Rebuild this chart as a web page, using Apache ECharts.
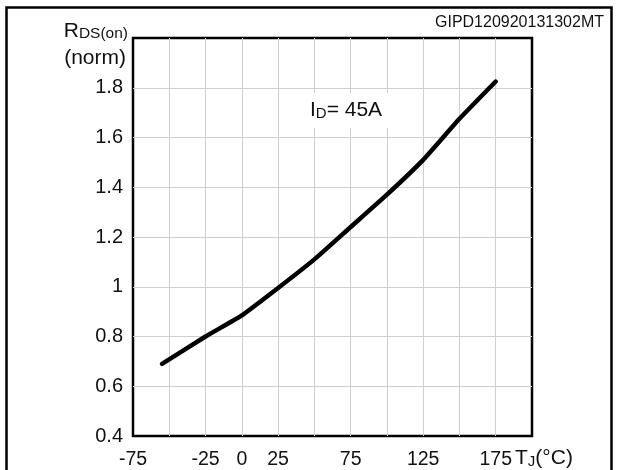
<!DOCTYPE html>
<html>
<head>
<meta charset="utf-8">
<style>
  html, body { margin: 0; padding: 0; background: #ffffff; }
  #chart { width: 617px; height: 470px; }
</style>
<script src="https://cdn.jsdelivr.net/npm/echarts@6/dist/echarts.min.js"></script>
</head>
<body>
<div id="chart"></div>
<script>
// Junction temperature (°C) and normalized on-resistance at ID = 45 A
const temperature = [-55, -25, 0, 25, 50, 75, 100, 125, 150, 175];
const rdsNorm     = [0.69, 0.80, 0.885, 0.995, 1.11, 1.24, 1.37, 1.51, 1.675, 1.825];

// Tick values that carry a printed label
const xTickLabels = [-75, -25, 0, 25, 75, 125, 175];
const yTickLabels = [0.4, 0.6, 0.8, 1, 1.2, 1.4, 1.6, 1.8];

const FONT = "'Liberation Sans', Arial, Helvetica, sans-serif";
const chart = echarts.init(document.getElementById('chart'), null, { renderer: 'canvas' });

const points = temperature.map((t, i) => [t, rdsNorm[i]]);

chart.setOption({
  animation: false,
  backgroundColor: '#ffffff',
  grid: {
    left: 133, top: 38, width: 399, height: 398,
    show: true, borderColor: '#000000', borderWidth: 2.5,
    backgroundColor: 'transparent'
  },
  xAxis: {
    type: 'value', min: -75, max: 200, interval: 25,
    axisLine: { show: false },
    axisTick: { show: false },
    splitLine: { show: true, showMinLine: false, showMaxLine: false,
                 lineStyle: { color: '#cfcfcf', width: 1 } },
    axisLabel: {
      margin: 14, fontSize: 19.5, color: '#111111', fontFamily: FONT,
      formatter: v => xTickLabels.some(t => Math.abs(t - v) < 1e-6) ? String(v) : ''
    }
  },
  yAxis: {
    type: 'value', min: 0.4, max: 2.0, interval: 0.2,
    axisLine: { show: false },
    axisTick: { show: false },
    splitLine: { show: true, showMinLine: false, showMaxLine: false,
                 lineStyle: { color: '#cfcfcf', width: 1 } },
    axisLabel: {
      margin: 10, fontSize: 20, color: '#111111', fontFamily: FONT,
      padding: [6, 0, 0, 0],
      formatter: v => {
        const r = Math.round(v * 10) / 10;
        return yTickLabels.some(t => Math.abs(t - r) < 1e-6) ? String(r) : '';
      }
    }
  },
  series: [{
    type: 'line',
    data: points,
    showSymbol: false,
    smooth: 0.15,
    lineStyle: { color: '#000000', width: 4.5, cap: 'round', join: 'round' },
    z: 5
  }],
  graphic: [
    // outer frame
    { type: 'rect', shape: { x: 6.5, y: 7.5, width: 605, height: 480 },
      style: { fill: 'none', stroke: '#000000', lineWidth: 2.5 }, silent: true },
    // drawing reference code
    { type: 'text', right: 617 - 604, top: 15,
      style: { text: 'GIPD120920131302MT', font: '16px ' + FONT, fill: '#111111' } },
    // y-axis title
    { type: 'text', x: 128, y: 42,
      style: {
        text: '{a|R}{b|DS(on)}', align: 'right', verticalAlign: 'bottom',
        rich: {
          a: { font: '21px ' + FONT, fill: '#111111', verticalAlign: 'bottom' },
          b: { font: '15.5px ' + FONT, fill: '#111111', verticalAlign: 'bottom' }
        }
      } },
    { type: 'text', x: 126, y: 58,
      style: { text: '(norm)', font: '21px ' + FONT, fill: '#111111',
               align: 'right', verticalAlign: 'middle' } },
    // x-axis title
    { type: 'text', x: 515, y: 469,
      style: {
        text: '{a|T}{b|J}{a|(°C)}', align: 'left', verticalAlign: 'bottom',
        rich: {
          a: { font: '21px ' + FONT, fill: '#111111', verticalAlign: 'bottom' },
          b: { font: '15px ' + FONT, fill: '#111111', verticalAlign: 'bottom' }
        }
      } },
    // condition label
    { type: 'text', x: 305, y: 93, z: 10,
      style: {
        text: '{a|I}{b|D}{a|= 45A}', align: 'left', verticalAlign: 'top',
        backgroundColor: '#ffffff', padding: [7, 12, 7, 5],
        rich: {
          a: { font: '21px ' + FONT, fill: '#111111', verticalAlign: 'bottom' },
          b: { font: '15px ' + FONT, fill: '#111111', verticalAlign: 'bottom' }
        }
      } }
  ]
});
</script>
</body>
</html>
